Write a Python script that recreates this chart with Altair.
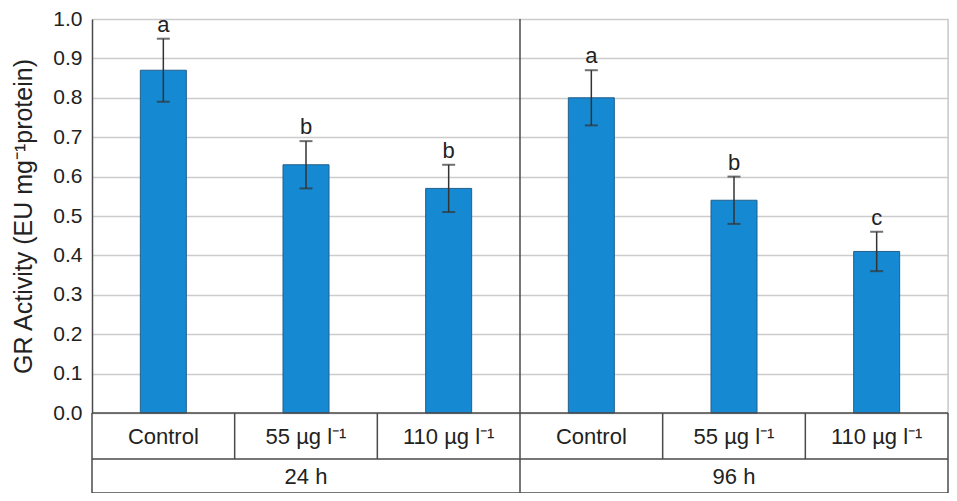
import altair as alt
import pandas as pd

# ---- data ----
times = ["24 h", "24 h", "24 h", "96 h", "96 h", "96 h"]
treatments = ["Control", "55 µg l⁻¹", "110 µg l⁻¹", "Control", "55 µg l⁻¹", "110 µg l⁻¹"]
means = [0.87, 0.63, 0.57, 0.80, 0.54, 0.41]
errors = [0.08, 0.06, 0.06, 0.07, 0.06, 0.05]
letters = ["a", "b", "b", "a", "b", "c"]
y_ticks = [0.0, 0.1, 0.2, 0.3, 0.4, 0.5, 0.6, 0.7, 0.8, 0.9, 1.0]

keys = [f"{t} | {c}" for t, c in zip(times, treatments)]
df = pd.DataFrame({
    "key": keys,
    "time": times,
    "treat": treatments,
    "mean": means,
    "lo": [m - e for m, e in zip(means, errors)],
    "hi": [m + e for m, e in zip(means, errors)],
    "letter": letters,
})

# layout constants (pixels)
W, H = 856, 394
ROW1, ROW2 = H + 46, H + 80
FONT = "Liberation Sans"
DARK = "#4a4a4a"
TITLE = "GR Activity (EU mg⁻¹protein)"

xs = alt.Scale(domain=keys, paddingInner=0, paddingOuter=0)
ys = alt.Scale(domain=[0, 1], nice=False)
yaxis = alt.Axis(values=y_ticks, format=".1f", title=TITLE,
                 ticks=False, labelPadding=10, titlePadding=16,
                 labelOverlap=False, labelFlush=False,
                 grid=True, gridColor="#cccccc", gridWidth=1.5,
                 domainColor=DARK, domainWidth=1.5,
                 labelFontSize=21, titleFontSize=25, labelColor="#222",
                 titleColor="#222", labelFont=FONT, titleFont=FONT,
                 titleFontWeight="normal")
X = alt.X("key:N", scale=xs, axis=None, sort=keys)
base = alt.Chart(df)

def Y(field):
    return alt.Y(field, scale=ys, axis=yaxis, title=TITLE)

bars = base.mark_bar(size=46, color="#1589d1", stroke="#245f8c", strokeWidth=1).encode(
    x=X, y=Y("mean:Q"))
err = base.mark_rule(color="#333", strokeWidth=1.5).encode(x=X, y=Y("lo:Q"), y2="hi:Q")
cap_hi = base.mark_tick(color="#333", thickness=2, size=13).encode(x=X, y=Y("hi:Q"))
cap_lo = base.mark_tick(color="#333", thickness=2, size=13).encode(x=X, y=Y("lo:Q"))
lett = base.mark_text(fontSize=22, font=FONT, color="#222", baseline="alphabetic", dy=-7).encode(
    x=X, y=Y("hi:Q"), text="letter:N")

# table labels
row1 = base.mark_text(fontSize=22, font=FONT, color="#222").encode(
    x=X, y=alt.value((H + ROW1) / 2 + 1), text="treat:N")
mid_keys = [keys[1], keys[4]]
row2 = base.transform_filter(alt.FieldOneOfPredicate(field="key", oneOf=mid_keys)).mark_text(
    fontSize=22, font=FONT, color="#222").encode(
    x=X, y=alt.value((ROW1 + ROW2) / 2 + 1), text="time:N")

# table grid lines
def vline(sel, band, y0, y1, color=DARK):
    return base.transform_filter(alt.FieldOneOfPredicate(field="key", oneOf=sel)).mark_rule(
        color=color, strokeWidth=1.5).encode(
        x=alt.X("key:N", scale=xs, axis=None, sort=keys, bandPosition=band),
        y=alt.value(y0), y2=alt.value(y1))

vshort = vline([keys[1], keys[2], keys[4], keys[5]], 0, H, ROW1)
vdiv = vline([keys[3]], 0, 0, ROW2)
vleft = vline([keys[0]], 0, H, ROW2)
vright = vline([keys[5]], 1, H, ROW2)
vright_light = vline([keys[5]], 1, 0, H, color="#cccccc")

def hline(yv):
    return alt.Chart(pd.DataFrame({"a": [0]})).mark_rule(color=DARK, strokeWidth=1.5).encode(
        x=alt.value(0), x2=alt.value(W), y=alt.value(yv))

chart = alt.layer(
    bars, vright_light, err, cap_hi, cap_lo, lett, row1, row2,
    vshort, vdiv, vleft, vright, hline(H), hline(ROW1), hline(ROW2),
).properties(
    width=W, height=H,
    autosize=alt.AutoSizeParams(type="none"),
    padding={"left": 84, "top": 11, "right": 1, "bottom": 80},
).configure_view(stroke=None).configure(background="white")

chart.save("out.html", embed_options={"renderer": "svg", "actions": False})
